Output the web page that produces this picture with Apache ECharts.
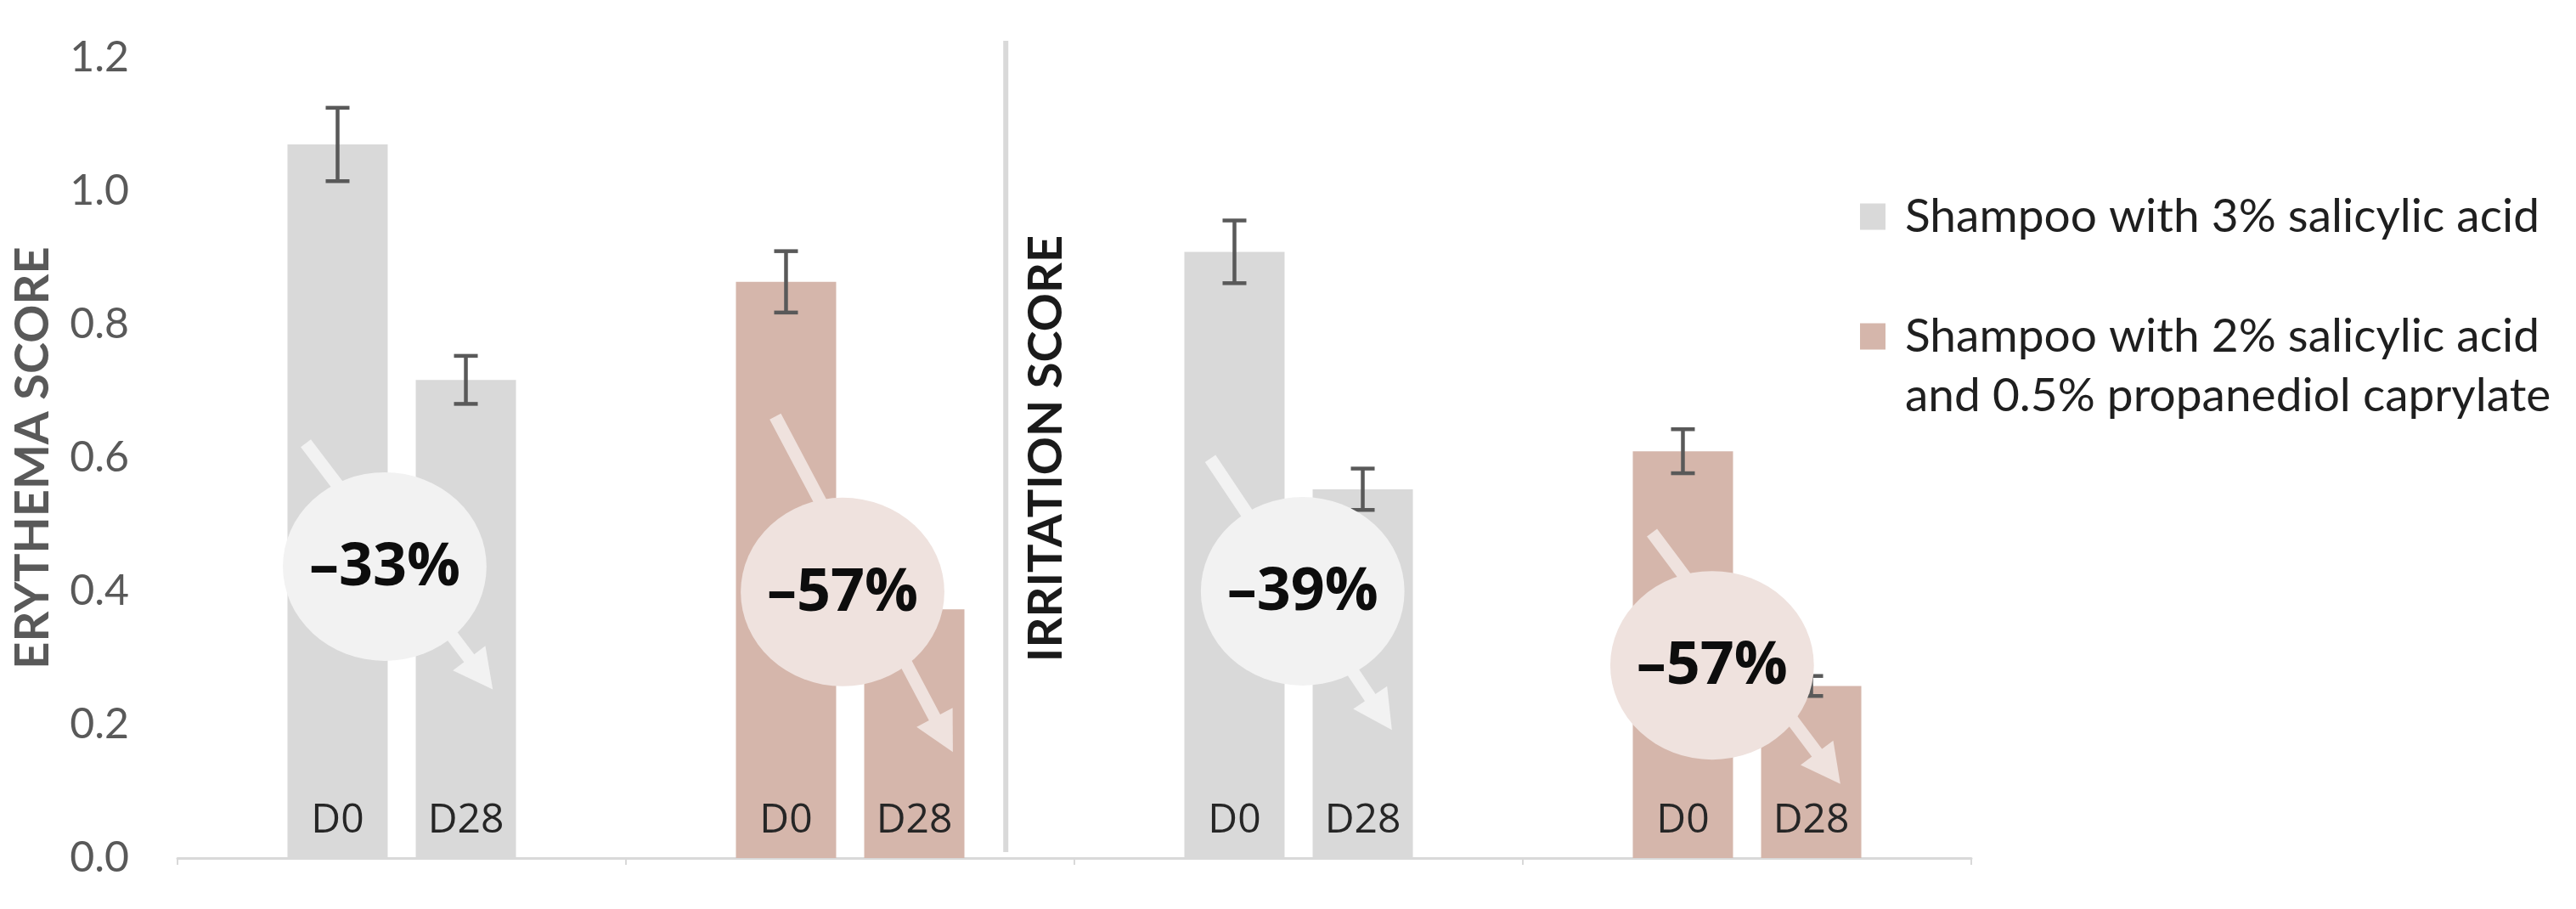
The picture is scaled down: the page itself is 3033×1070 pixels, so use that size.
<!DOCTYPE html>
<html><head><meta charset="utf-8">
<script src="https://cdn.jsdelivr.net/npm/echarts@6/dist/echarts.min.js"></script>
<style>html,body{margin:0;padding:0;background:#fff}#c{width:3033px;height:1070px}</style>
</head><body><div id="c"></div>
<script>
// ---- data ----
const categories = ['Erythema – 3% SA', 'Erythema – 2% SA + 0.5% PC', 'Irritation – 3% SA', 'Irritation – 2% SA + 0.5% PC'];
const productOf = [0, 1, 0, 1];
const productNames = ['Shampoo with 3% salicylic acid', 'Shampoo with 2% salicylic acid and 0.5% propanediol caprylate'];
const dayLabels = ['D0', 'D28'];
const d0Values = [1.07, 0.864, 0.909, 0.61];
const d28Values = [0.717, 0.373, 0.553, 0.258];
const d0Errors = [0.055, 0.046, 0.047, 0.033];
const d28Errors = [0.036, 0.03, 0.031, 0.015];
const changeLabels = ['–33%', '–57%', '–39%', '–57%'];
// annotation anchors in data units (x: category units 0..4, y: score)
const circleCenters = [[0.462, 0.437], [1.483, 0.399], [2.509, 0.400], [3.422, 0.289]];
const arrowStarts = [[0.286, 0.622], [1.333, 0.662], [2.303, 0.599], [3.288, 0.488]];
const arrowTips = [[0.703, 0.253], [1.729, 0.159], [2.708, 0.192], [3.708, 0.111]];
const dividerX = 1.847;
const dividerRange = [0.009, 1.2255];
const yMin = 0, yMax = 1.2, yStep = 0.2;

// ---- styles ----
const barColors = ['#d9d9d9', '#d5b6ab'];
const bubbleColors = ['#f2f2f2', '#efe2de'];
const BAR_W = 118, BAR_GAP = 0.28;
const BAR_OFFSET = BAR_W * (1 + BAR_GAP) / 2;

function pick(values, p) { return values.map((v, i) => productOf[i] === p ? v : null); }
function barSeries(p, stack, values, day) {
  return {
    name: productNames[p], type: 'bar', stack: stack, data: pick(values, p),
    barWidth: BAR_W, barGap: (BAR_GAP * 100) + '%',
    itemStyle: { color: barColors[p] }, z: 2,
    label: { show: true, position: 'insideBottom', distance: 20, formatter: day,
      fontFamily: 'Open Sans', fontSize: 48, color: '#262626' }
  };
}

const chart = echarts.init(document.getElementById('c'));
chart.setOption({
  animation: false,
  backgroundColor: '#ffffff',
  grid: { left: 209, right: 712, top: 68, bottom: 60 },
  legend: {
    data: productNames, orient: 'vertical', left: 2185, top: 215, itemGap: 1,
    itemWidth: 30, itemHeight: 31, icon: 'rect',
    formatter: n => n.indexOf(' and ') > 0 ? '\n' + n.replace(' and ', '\nand ') : n,
    textStyle: { fontFamily: 'Lato', fontSize: 55, color: '#1f1f1f', lineHeight: 70, padding: [0, 0, 0, 18] }
  },
  xAxis: [
    { type: 'category', data: categories,
      axisLine: { lineStyle: { color: '#d9d9d9', width: 3 } },
      axisTick: { show: true, length: 8, lineStyle: { color: '#d9d9d9', width: 2 } },
      axisLabel: { show: false } },
    { type: 'value', min: 0, max: categories.length, show: false }
  ],
  yAxis: {
    type: 'value', min: yMin, max: yMax, interval: yStep,
    axisLine: { show: false }, axisTick: { show: false }, splitLine: { show: false },
    axisLabel: { formatter: v => v.toFixed(1), fontFamily: 'Lato', fontSize: 50, color: '#595959', margin: 57 },
    name: 'ERYTHEMA SCORE', nameLocation: 'middle', nameRotate: 90, nameGap: 142,
    nameTextStyle: { fontFamily: 'Lato', fontWeight: 'bold', fontSize: 56, color: '#595959' }
  },
  graphic: [{
    type: 'text', x: 1232, y: 528, rotation: Math.PI / 2,
    style: { text: 'IRRITATION SCORE', fontFamily: 'Lato', fontWeight: 'bold', fontSize: 56,
      fill: '#1a1a1a', align: 'center', verticalAlign: 'middle' }
  }],
  series: [
    barSeries(0, 'd0', d0Values, dayLabels[0]),
    barSeries(1, 'd0', d0Values, dayLabels[0]),
    barSeries(0, 'd28', d28Values, dayLabels[1]),
    barSeries(1, 'd28', d28Values, dayLabels[1]),
    {
      name: 'error', type: 'custom', xAxisIndex: 0, yAxisIndex: 0, z: 3, silent: true,
      data: categories.map((c, i) => [i, d0Values[i], d0Errors[i], d28Values[i], d28Errors[i]]),
      encode: { x: 0, y: [1, 3] },
      renderItem(params, api) {
        const i = api.value(0);
        const children = [];
        [[api.value(1), api.value(2), -1], [api.value(3), api.value(4), 1]].forEach(([v, e, side]) => {
          const top = api.coord([i, v + e]);
          const bot = api.coord([i, v - e]);
          const x = top[0] + side * BAR_OFFSET;
          const st = { stroke: '#595959', lineWidth: 4.5 };
          children.push({ type: 'line', shape: { x1: x, y1: top[1], x2: x, y2: bot[1] }, style: st });
          children.push({ type: 'line', shape: { x1: x - 14, y1: top[1], x2: x + 14, y2: top[1] }, style: st });
          children.push({ type: 'line', shape: { x1: x - 14, y1: bot[1], x2: x + 14, y2: bot[1] }, style: st });
        });
        return { type: 'group', children };
      }
    },
    {
      name: 'change', type: 'custom', xAxisIndex: 1, yAxisIndex: 0, z: 4, silent: true, clip: false,
      data: categories.map((c, i) => [circleCenters[i][0], circleCenters[i][1], arrowStarts[i][0], arrowStarts[i][1], arrowTips[i][0], arrowTips[i][1]]),
      encode: { x: [0, 2, 4], y: [1, 3, 5] },
      renderItem(params, api) {
        const idx = params.dataIndex;
        const col = bubbleColors[productOf[idx]];
        const c = api.coord([api.value(0), api.value(1)]);
        const s = api.coord([api.value(2), api.value(3)]);
        const t = api.coord([api.value(4), api.value(5)]);
        const dx = t[0] - s[0], dy = t[1] - s[1], L = Math.hypot(dx, dy);
        const ux = dx / L, uy = dy / L, nx = -uy, ny = ux;
        const headLen = 46, headHalf = 24;
        const bx = t[0] - ux * headLen, by = t[1] - uy * headLen;
        return { type: 'group', children: [
          { type: 'line', shape: { x1: s[0], y1: s[1], x2: bx + ux * 2, y2: by + uy * 2 },
            style: { stroke: col, lineWidth: 15, lineCap: 'butt' } },
          { type: 'polygon', shape: { points: [[t[0], t[1]], [bx + nx * headHalf, by + ny * headHalf], [bx - nx * headHalf, by - ny * headHalf]] },
            style: { fill: col } },
          { type: 'circle', x: c[0], y: c[1], scaleX: 1.08, shape: { cx: 0, cy: 0, r: 111 }, style: { fill: col } },
          { type: 'text', x: c[0], y: c[1] + 2, style: { text: changeLabels[idx], fontFamily: 'Open Sans', fontWeight: 'bold',
            fontSize: 70, fill: '#0d0d0d', align: 'center', verticalAlign: 'middle' } }
        ] };
      }
    },
    {
      name: 'divider', type: 'custom', xAxisIndex: 1, yAxisIndex: 0, z: 1, silent: true, clip: false,
      data: [[dividerX, dividerRange[0], dividerRange[1]]],
      encode: { x: 0, y: [1, 2] },
      renderItem(params, api) {
        const a = api.coord([api.value(0), api.value(1)]);
        const b = api.coord([api.value(0), api.value(2)]);
        return { type: 'line', shape: { x1: a[0], y1: a[1], x2: b[0], y2: b[1] }, style: { stroke: '#d9d9d9', lineWidth: 6 } };
      }
    }
  ]
});
</script></body></html>
